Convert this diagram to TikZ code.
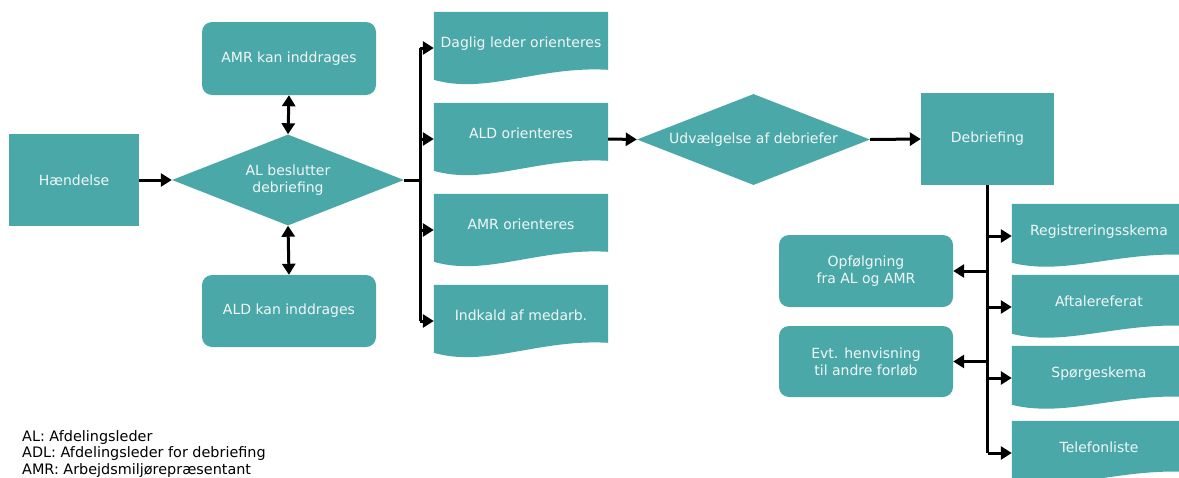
\documentclass[tikz,border=0pt]{standalone}
\usepackage{fontspec}
\setmainfont{DejaVu Sans}
\usetikzlibrary{arrows.meta,shapes.geometric,calc,backgrounds}
\definecolor{teal1}{HTML}{4AA9A8}
\definecolor{txt}{HTML}{F2F7F7}
\newcommand\wavedoc[5]{% name, rect height, left drop, ctrl1 y, ctrl2 y
  \fill[teal1] (#1.north west) -- (#1.north east) -- ($(#1.north east)+(0,#2)$)
    .. controls ($(#1.north west)!0.6!(#1.north east)+(0,#5)$) and ($(#1.north west)!0.3!(#1.north east)+(0,#4)$)
    .. ($(#1.north west)+(0,#3)$) -- cycle;}
\begin{document}
\begin{tikzpicture}[x=1pt,y=-1pt,
  every node/.style={font=\fontsize{14}{17}\selectfont},
  base/.style={fill=teal1,text=txt,inner sep=0pt,align=center},
  sqbox/.style={base,rectangle,minimum width=131pt,minimum height=92pt},
  rbox/.style={base,rectangle,rounded corners=10pt,minimum width=174pt,minimum height=72pt},
  dia/.style={base,diamond,shape aspect=2.55,minimum width=232pt,minimum height=91pt},
  docA/.style={rectangle,text=txt,inner sep=0pt,minimum width=174pt,minimum height=72pt,text height=10.5pt,text depth=11pt},
  docB/.style={rectangle,text=txt,inner sep=0pt,minimum width=174pt,minimum height=64pt,text height=10.5pt,text depth=11pt},
  arr/.style={line width=3pt,-{Triangle[length=11pt,width=13pt]}},
  darr/.style={line width=3pt,{Triangle[length=11pt,width=13pt]}-{Triangle[length=11pt,width=13pt]}},
  ln/.style={line width=3pt}]
\useasboundingbox (0,0) rectangle (1179,477);
\clip (0,0) rectangle (1179,477);

% left part
\node[sqbox,minimum width=130pt] (h) at (74,180) {Hændelse};
\node[dia] (d1) at (288,180) {AL beslutter\\debriefing};
\node[rbox,minimum height=73pt] (amr) at (289,58.5) {AMR kan inddrages};
\node[rbox] (ald) at (289,311) {ALD kan inddrages};

% documents column 1
\node[docA] (c1) at (521,48) {Daglig leder orienteres};
\node[docA] (c2) at (521,139) {ALD orienteres};
\node[docA] (c3) at (521,230) {AMR orienteres};
\node[docA] (c4) at (521,321) {Indkald af medarb.};

% middle/right
\node[dia,minimum width=233pt] (d2) at (753.5,139.5) {Udvælgelse af debriefer};
\node[sqbox,minimum width=133pt] (deb) at (987.5,139) {Debriefing};

\node[docB] (r1) at (1099,236) {Registreringsskema};
\node[docB] (r2) at (1099,307) {Aftalereferat};
\node[docB] (r3) at (1099,378) {Spørgeskema};
\node[docB] (r4) at (1099,453) {Telefonliste};

\node[rbox] (opf) at (866,271) {Opfølgning\\fra AL og AMR};
\node[rbox,minimum height=71pt] (evt) at (866,361.5) {Evt. henvisning\\ til andre forløb};

% legend
\node[anchor=west,align=left,inner sep=0pt,font=\fontsize{14.4}{16.6}\selectfont] (leg) at (22,454)
  {AL: Afdelingsleder\\ADL: Afdelingsleder for debriefing\\AMR: Arbejdsmiljørepræsentant};

\begin{scope}[on background layer]
  \wavedoc{c1}{58}{68}{83}{54}
  \wavedoc{c2}{58}{68}{83}{54}
  \wavedoc{c3}{58}{68}{83}{54}
  \wavedoc{c4}{58}{68}{83}{54}
  \wavedoc{r1}{51}{59}{72}{48}
  \wavedoc{r2}{51}{59}{72}{48}
  \wavedoc{r3}{51}{59}{72}{48}
  \wavedoc{r4}{51}{59}{72}{48}
\end{scope}

% connectors
\draw[arr] (h.east) -- (d1.west);
\draw[darr] (amr.south) -- (d1.north);
\draw[darr] (d1.south) -- (ald.north);
\coordinate (b1) at ($(d1.east)+(16,0)$);
\draw[ln] (d1.east) -- (b1);
\draw[ln] (b1 |- c1.west) -- (b1 |- c4.west);
\foreach \n in {c1,c2,c3,c4} \draw[arr] (b1 |- \n.west) -- (\n.west);
\draw[arr] (c2.east) -- (d2.west);
\draw[arr] (d2.east) -- (deb.west);
\coordinate (b2) at (deb.south);
\draw[ln] (deb.south) -- (b2 |- r4.west);
\foreach \n in {r1,r2,r3,r4} \draw[arr] (b2 |- \n.west) -- (\n.west);
\draw[arr] (b2 |- opf.east) -- (opf.east);
\draw[arr] (b2 |- evt.east) -- (evt.east);
\end{tikzpicture}
\end{document}
